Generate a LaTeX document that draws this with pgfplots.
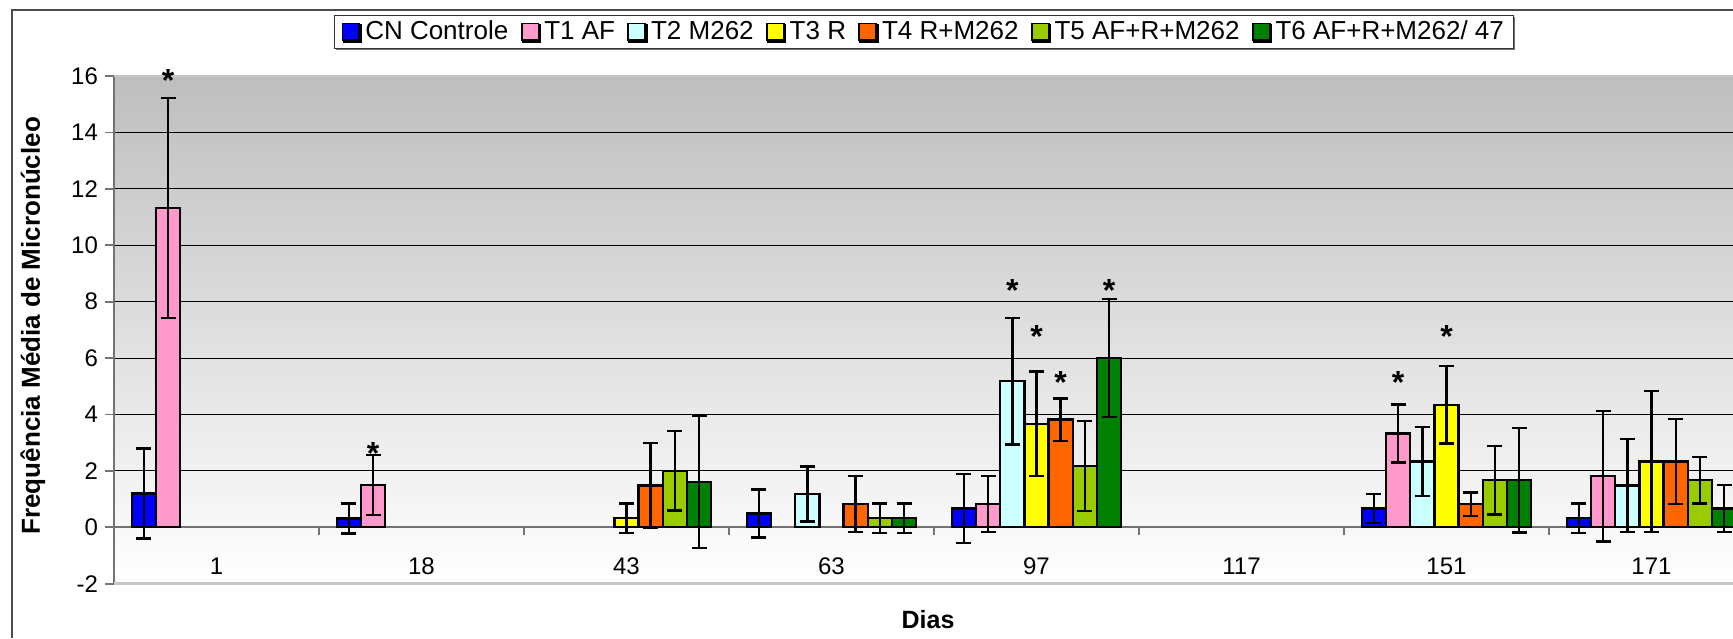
\documentclass[border=0pt]{standalone}
\usepackage{fontspec}
\setmainfont{Liberation Sans}
\usepackage{pgfplots}
\pgfplotsset{compat=1.18}
\usetikzlibrary{shadows}

\definecolor{cCN}{HTML}{0000FF}
\definecolor{cT1}{HTML}{FF99CC}
\definecolor{cT2}{HTML}{CCFFFF}
\definecolor{cT3}{HTML}{FFFF00}
\definecolor{cT4}{HTML}{FF6600}
\definecolor{cT5}{HTML}{99CC00}
\definecolor{cT6}{HTML}{008000}
\definecolor{bgtop}{HTML}{BEBEBE}
\tikzset{star/.style={font=\bfseries\fontsize{16}{18}\selectfont, anchor=base, inner sep=0pt, yshift=-8.8pt}}

\begin{document}
\begin{tikzpicture}
\begin{axis}[
  scale only axis,
  width=809.5pt, height=253.85pt,
  xmin=-0.5, xmax=7.3976,
  ymin=-2, ymax=16,
  clip mode=individual,
  axis y line=left,
  axis x line=middle,
  hide obscured x ticks=false,
  hide obscured y ticks=false,
  axis line style={-, draw=black!55, line width=0.9pt},
  axis background/.style={top color=bgtop, bottom color=white},
  ytick={0,2,...,14},
  extra y ticks={-2,16},
  extra y tick style={grid style={draw=black!22, line width=1.3pt}},
  ymajorgrids,
  grid style={draw=black, line width=0.5pt},
  ytick align=outside,
  major tick length=4.5pt,
  y tick style={draw=black!55, line width=0.9pt},
  xtick={0,...,7},
  xticklabels={1,18,43,63,97,117,151,171},
  major x tick style={draw=none},
  minor xtick={0.5,1.5,...,7.5},
  minor x tick style={draw=black!55, line width=0.9pt},
  minor tick length=4pt,
  xtick align=outside,
  xticklabel style={anchor=center, yshift=-15pt},
  tick label style={font=\fontsize{12}{14}\selectfont},
  /pgf/number format/assume math mode=true,
  every axis y label/.style={at={(axis description cs:-0.05003,0.508)}, anchor=center, rotate=90, font=\bfseries\fontsize{13}{15}\selectfont},
  every axis x label/.style={at={(axis description cs:0.5028,-0.0715)}, anchor=center, font=\bfseries\fontsize{12.5}{14}\selectfont},
  ylabel={Frequência Média de Micronúcleo},
  xlabel={Dias},
  ybar=0pt,
  bar width=0.118,
  error bars/y dir=both,
  error bars/y explicit,
  error bars/error bar style={draw=black, line width=1.2pt},
  error bars/error mark options={rotate=90, mark size=3.75pt, line width=1.2pt, draw=black},
  legend columns=-1,
  legend style={at={(axis description cs:0.5003,1.0867)}, anchor=center, draw=black!80, line width=0.6pt,
    fill=white, drop shadow={shadow xshift=0.6pt, shadow yshift=-0.6pt, fill=black!55, opacity=1},
    font=\fontsize{13}{15}\selectfont, inner xsep=3.5pt, inner ysep=1.2pt,
    nodes={inner xsep=1.2pt, inner ysep=1.5pt},
    /tikz/every odd column/.append style={column sep=1.3pt},
    /tikz/every even column/.append style={column sep=5pt}},
  legend image code/.code={\draw[#1, draw=black, line width=0.9pt] (0pt,-4.2pt) rectangle (8.4pt,4.2pt);},
  after end axis/.code={
    \draw[black!70, line width=1pt] (axis description cs:-0.0630,-0.107) |- (axis description cs:1,1.130);
    \coordinate (BBll) at (axis description cs:-0.07041,-0.107);
    \coordinate (BBur) at (axis description cs:1,1.1497);
  },
]
% CN Controle
\addplot[fill=cCN, draw=black, line width=1.2pt] coordinates {
  (0,1.20) +- (0,1.60)
  (1,0.31) +- (0,0.53)
  (3,0.49) +- (0,0.85)
  (4,0.66) +- (0,1.22)
  (6,0.67) +- (0,0.52)
  (7,0.32) +- (0,0.52)
};
% T1 AF
\addplot[fill=cT1, draw=black, line width=1.2pt] coordinates {
  (0,11.33) +- (0,3.90)
  (1,1.50) +- (0,1.06)
  (4,0.82) +- (0,0.99)
  (6,3.33) +- (0,1.03)
  (7,1.81) +- (0,2.32)
};
% T2 M262
\addplot[fill=cT2, draw=black, line width=1.2pt] coordinates {
  (3,1.18) +- (0,0.98)
  (4,5.18) +- (0,2.25)
  (6,2.33) +- (0,1.22)
  (7,1.48) +- (0,1.65)
};
% T3 R
\addplot[fill=cT3, draw=black, line width=1.2pt] coordinates {
  (2,0.32) +- (0,0.52)
  (4,3.67) +- (0,1.86)
  (6,4.34) +- (0,1.37)
  (7,2.33) +- (0,2.50)
};
% T4 R+M262
\addplot[fill=cT4, draw=black, line width=1.2pt] coordinates {
  (2,1.48) +- (0,1.50)
  (3,0.82) +- (0,0.99)
  (4,3.82) +- (0,0.75)
  (6,0.82) +- (0,0.42)
  (7,2.33) +- (0,1.50)
};
% T5 AF+R+M262
\addplot[fill=cT5, draw=black, line width=1.2pt] coordinates {
  (2,2.00) +- (0,1.41)
  (3,0.32) +- (0,0.52)
  (4,2.17) +- (0,1.60)
  (6,1.67) +- (0,1.22)
  (7,1.67) +- (0,0.82)
};
% T6 AF+R+M262/ 47
\addplot[fill=cT6, draw=black, line width=1.2pt] coordinates {
  (2,1.61) +- (0,2.35)
  (3,0.32) +- (0,0.52)
  (4,6.00) +- (0,2.09)
  (6,1.67) +- (0,1.85)
  (7,0.66) +- (0,0.83)
};
\legend{CN Controle, T1 AF, T2 M262, T3 R, T4 R+M262, T5 AF+R+M262, T6 AF+R+M262/ 47}
% significance asterisks
\node[star] at (axis cs:-0.236,16.06) {*};
\node[star] at (axis cs:0.764,2.85) {*};
\node[star] at (axis cs:3.882,8.64) {*};
\node[star] at (axis cs:4.000,6.99) {*};
\node[star] at (axis cs:4.118,5.35) {*};
\node[star] at (axis cs:4.354,8.64) {*};
\node[star] at (axis cs:5.764,5.35) {*};
\node[star] at (axis cs:6.000,7.01) {*};
\end{axis}
\pgfresetboundingbox
\useasboundingbox (BBll) rectangle (BBur);
\end{tikzpicture}
\end{document}
